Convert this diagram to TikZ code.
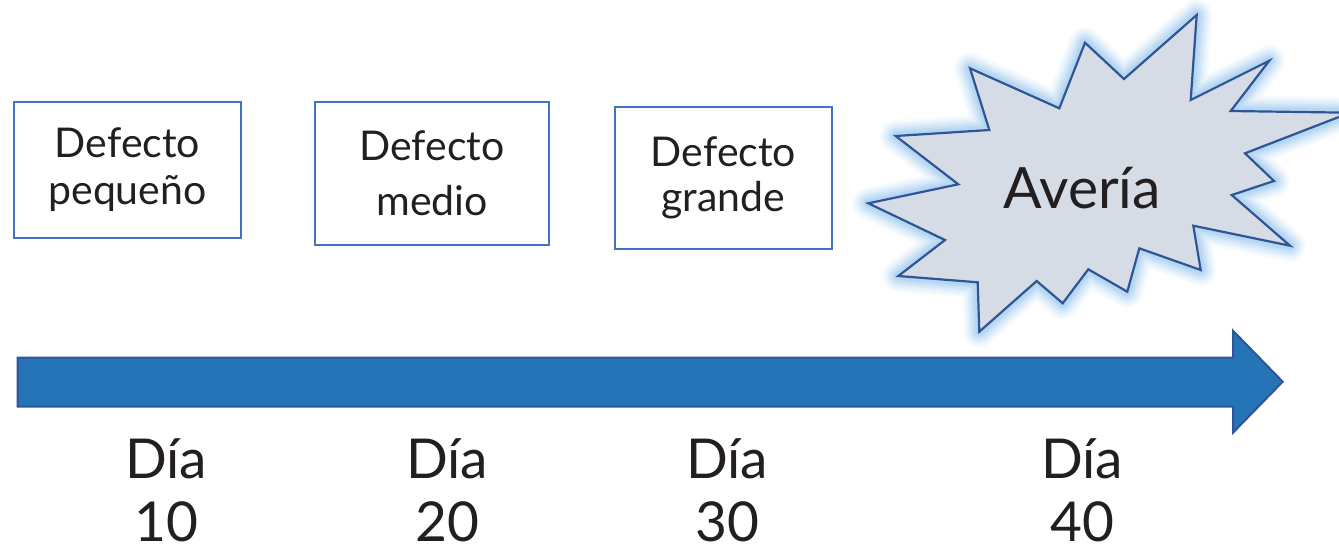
\documentclass[tikz,border=0pt]{standalone}
\usepackage{fontspec}
\setmainfont{Lato}
\definecolor{boxblue}{HTML}{4472C4}
\definecolor{arrowfill}{HTML}{2674B8}
\definecolor{arrowline}{HTML}{2F5597}
\definecolor{burstfill}{HTML}{D6DCE5}
\definecolor{burstline}{HTML}{2F5597}
\definecolor{glow}{HTML}{9CC8EE}
\definecolor{txt}{HTML}{231F20}
\begin{document}
\begin{tikzpicture}[x=1pt,y=-1pt,
  defbox/.style={draw=boxblue,line width=1.6pt,fill=white,inner sep=0pt,align=center,text=txt,font=\fontsize{41}{47}\selectfont},
  daylabel/.style={align=center,text=txt,font=\fontsize{55}{63}\selectfont},
  burst/.style={draw=burstline,line width=2.2pt,fill=burstfill,line join=miter}
]
\useasboundingbox (0,0) rectangle (1339,552);
\clip (0,0) rectangle (1339,552);
% boxes
\node[defbox,minimum width=227pt,minimum height=136pt] (b1) at (127.5,170) {Defecto\\pequeño};
\node[defbox,minimum width=234pt,minimum height=143pt] (b2) at (432,173.5) {Defecto\\[8pt]medio};
\node[defbox,minimum width=217pt,minimum height=142pt] (b3) at (723.5,178) {Defecto\\[-2pt]grande};
% starburst glow
\def\burstpath{(1196.7,15) -- (1190.7,100) -- (1269.3,60.7) -- (1230.7,111) -- (1350,112.7) -- (1245,153.3) -- (1274,181) -- (1231.7,195) -- (1290,245.7) -- (1193.3,225.7) -- (1200.7,270) -- (1139.3,248.3) -- (1127.3,291.7) -- (1088.3,269.3) -- (1062.7,303.3) -- (1036.7,281) -- (979.3,331.7) -- (977.7,282.3) -- (898.3,276) -- (945,240) -- (868.3,203.3) -- (958.3,184.3) -- (895.7,136) -- (989.3,130) -- (970,68.3) -- (1059.3,108.3) -- (1085,42.7) -- (1124,79) -- cycle}
\foreach \w/\o in {32/0.07,28/0.09,24/0.12,20/0.15,16/0.2,12/0.25,8/0.3}{
  \draw[glow,line width=\w pt,line join=round,opacity=\o] \burstpath;
}
\draw[burst] \burstpath;
\node[text=txt,font=\fontsize{57}{60}\selectfont] (av) at (1082,188) {Avería};
% timeline arrow
\coordinate (a0) at (17.5,357.5);
\coordinate (tip) at (1282.7,381.7);
\draw[fill=arrowfill,draw=arrowline,line width=2pt,line join=miter]
  (a0) -- (1233,357.5) -- (1233,330.7) -- (tip) -- (1233,432.7) -- (1233,406.7) -- (17.5,406.7) -- cycle;
% day labels
\node[daylabel] (d1) at (166,490) {Día\\10};
\node[daylabel] (d2) at (447,490) {Día\\20};
\node[daylabel] (d3) at (727,490) {Día\\30};
\node[daylabel] (d4) at (1082,490) {Día\\40};
\end{tikzpicture}
\end{document}
